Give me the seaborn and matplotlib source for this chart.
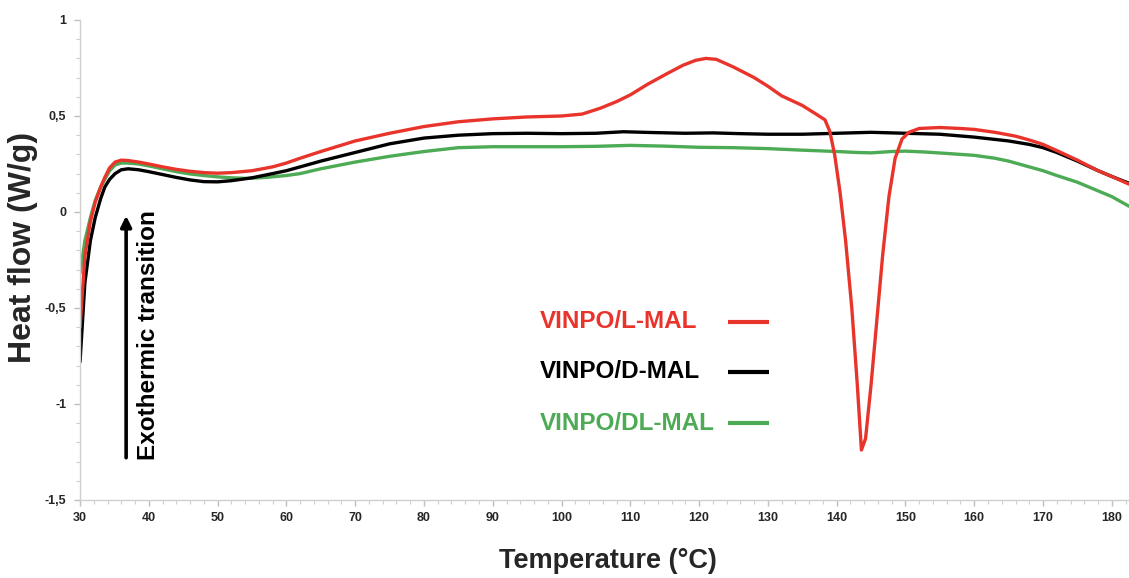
import numpy as np
import pandas as pd
import matplotlib
matplotlib.use("Agg")
import matplotlib.pyplot as plt
import seaborn as sns
from matplotlib.ticker import MultipleLocator

# ---------------- data ----------------
l_temp = [30, 30.7, 31.5, 32.2, 33, 33.6, 34.3, 35.1, 36, 37, 38.5, 40, 42, 44, 46, 48, 50, 52, 55, 58,
          60, 62, 65, 70, 75, 80, 85, 90, 95, 100, 103, 105.6, 108, 110, 112.5, 115.3, 117.7, 119.5, 121,
          122.5, 125, 128, 130, 132, 135, 137, 138.3, 139, 139.7, 140.5, 141.3, 142.2, 143, 143.6, 144.2,
          145, 145.8, 146.7, 147.6, 148.5, 149.5, 150.5, 152, 155, 158, 160, 163, 166, 168, 170, 172, 175,
          178, 180, 182.5]
l_flow = [-0.60, -0.23, -0.05, 0.05, 0.13, 0.18, 0.23, 0.26, 0.27, 0.268, 0.26, 0.25, 0.235, 0.222, 0.212,
          0.205, 0.202, 0.205, 0.215, 0.235, 0.255, 0.28, 0.315, 0.37, 0.41, 0.445, 0.47, 0.485, 0.495, 0.50,
          0.51, 0.54, 0.575, 0.61, 0.665, 0.72, 0.765, 0.79, 0.80, 0.795, 0.755, 0.70, 0.655, 0.605, 0.555,
          0.51, 0.48, 0.42, 0.30, 0.10, -0.15, -0.50, -0.90, -1.24, -1.18, -0.90, -0.58, -0.22, 0.08, 0.28,
          0.38, 0.415, 0.435, 0.44, 0.435, 0.43, 0.415, 0.395, 0.375, 0.352, 0.32, 0.27, 0.215, 0.185, 0.145]

d_temp = [30, 30.7, 31.5, 32.2, 33, 33.6, 34.3, 35.1, 36, 37, 38.5, 40, 42, 44, 46, 48, 50, 52, 55, 58,
          60, 63, 65, 70, 75, 80, 85, 90, 95, 100, 105, 109, 113, 118, 122, 126, 130, 135, 140, 145, 150,
          155, 160, 165, 168, 170, 172, 175, 178, 180, 182.5]
d_flow = [-0.78, -0.37, -0.15, -0.03, 0.07, 0.13, 0.17, 0.20, 0.22, 0.225, 0.22, 0.21, 0.195, 0.18, 0.167,
          0.158, 0.157, 0.163, 0.178, 0.20, 0.215, 0.245, 0.265, 0.31, 0.355, 0.385, 0.40, 0.408, 0.41, 0.408,
          0.41, 0.418, 0.414, 0.41, 0.412, 0.408, 0.405, 0.405, 0.41, 0.415, 0.41, 0.405, 0.39, 0.37, 0.352,
          0.335, 0.31, 0.265, 0.215, 0.185, 0.15]

dl_temp = [30, 30.7, 31.5, 32.2, 33, 33.6, 34.3, 35.1, 36, 37, 38.5, 40, 42, 44, 46, 48, 50, 52, 54.3, 57,
           60, 62, 65, 70, 75, 80, 85, 90, 95, 100, 105, 110, 115, 120, 125, 130, 135, 140, 143, 145, 148,
           150, 153, 156, 160, 163, 165, 168, 170, 172, 175, 178, 180, 182.5]
dl_flow = [-0.32, -0.15, -0.03, 0.06, 0.13, 0.17, 0.215, 0.245, 0.255, 0.255, 0.25, 0.24, 0.225, 0.21, 0.198,
           0.19, 0.183, 0.178, 0.175, 0.18, 0.19, 0.2, 0.225, 0.26, 0.29, 0.315, 0.335, 0.34, 0.34, 0.34,
           0.342, 0.347, 0.343, 0.337, 0.335, 0.33, 0.322, 0.315, 0.31, 0.308, 0.315, 0.317, 0.312, 0.305,
           0.295, 0.28, 0.265, 0.235, 0.215, 0.19, 0.155, 0.11, 0.08, 0.03]

series_labels = ["VINPO/L-MAL", "VINPO/D-MAL", "VINPO/DL-MAL"]
series_colors = ["#E8342B", "#000000", "#4DAA55"]

x_ticks = [30, 40, 50, 60, 70, 80, 90, 100, 110, 120, 130, 140, 150, 160, 170, 180]
y_ticks = [-1.5, -1, -0.5, 0, 0.5, 1]
y_tick_labels = ["-1,5", "-1", "-0,5", "0", "0,5", "1"]

# ---------------- style ----------------
sns.set_theme(style="white")
plt.rcParams["font.family"] = ["Liberation Sans", "DejaVu Sans"]
plt.rcParams["font.weight"] = "bold"

fig = plt.figure(figsize=(11.29, 5.78), dpi=100)
ax = fig.add_axes([0.0709, 0.135, 0.9291, 0.8304])

frames = [
    pd.DataFrame({"T": l_temp, "HF": l_flow}),
    pd.DataFrame({"T": d_temp, "HF": d_flow}),
    pd.DataFrame({"T": dl_temp, "HF": dl_flow}),
]
# draw green first, then black, red on top
for idx in [2, 1, 0]:
    sns.lineplot(data=frames[idx], x="T", y="HF", color=series_colors[idx], linewidth=2.4,
                 estimator=None, sort=False, ax=ax, legend=False)

ax.set_xlim(30, 182.5)
ax.set_ylim(-1.5, 1)
ax.set_xticks(x_ticks)
ax.set_xticklabels([str(t) for t in x_ticks], fontsize=9, fontweight="bold")
ax.set_yticks(y_ticks)
ax.set_yticklabels(y_tick_labels, fontsize=9, fontweight="bold")
ax.xaxis.set_minor_locator(MultipleLocator(2))
ax.yaxis.set_minor_locator(MultipleLocator(0.1))

for s in ["top", "right"]:
    ax.spines[s].set_visible(False)
for s in ["left", "bottom"]:
    ax.spines[s].set_color("#cfcfcf")
    ax.spines[s].set_linewidth(1.0)

ax.tick_params(which="major", direction="out", length=4, width=1, color="#bfbfbf", pad=6,
               bottom=True, left=True)
ax.tick_params(which="minor", direction="out", length=3, width=0.8, color="#cfcfcf",
               bottom=True, left=True)
ax.tick_params(axis="x", which="major", pad=5)

ax.set_xlabel("Temperature (°C)", fontsize=19.5, fontweight="bold")
ax.set_ylabel("Heat flow (W/g)", fontsize=23, fontweight="bold")
ax.xaxis.set_label_coords(0.503, -0.100)
ax.yaxis.set_label_coords(-0.040, 0.527)

# arrow with label
ax.annotate("", xy=(36.7, -0.02), xytext=(36.7, -1.28),
            arrowprops=dict(arrowstyle="-|>", color="black", lw=2.6, mutation_scale=16,
                            shrinkA=0, shrinkB=0))
ax.text(39.9, -0.64, "Exothermic transition", rotation=90, ha="center", va="center",
        fontsize=17.5, fontweight="bold", color="black")

# manual legend (text then line sample)
legend_rows_y = [0.371, 0.267, 0.160]
for lab, col, yy in zip(series_labels, series_colors, legend_rows_y):
    ax.text(0.4385, yy, lab, transform=ax.transAxes, ha="left", va="center",
            fontsize=17.5, fontweight="bold", color=col)
    ax.plot([0.6177, 0.6568], [yy, yy], transform=ax.transAxes, color=col, linewidth=3.0,
            solid_capstyle="butt")

fig.savefig("out.png", dpi=100)
